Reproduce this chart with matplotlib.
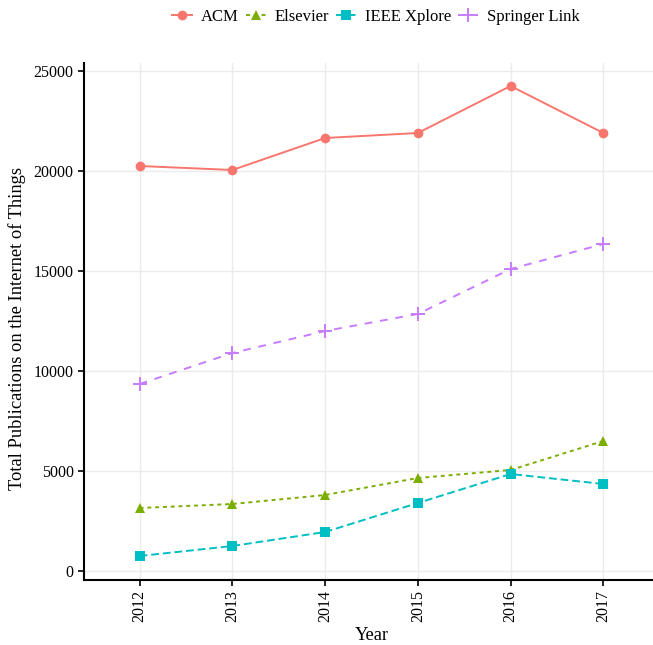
import numpy as np
import matplotlib.pyplot as plt

plt.rcParams['font.family'] = ['Liberation Serif', 'DejaVu Serif']

years = [2012, 2013, 2014, 2015, 2016, 2017]
acm = [20250, 20050, 21650, 21900, 24250, 21900]
elsevier = [3150, 3350, 3800, 4650, 5050, 6500]
ieee = [750, 1250, 1950, 3400, 4850, 4350]
springer = [9350, 10900, 12000, 12850, 15100, 16350]

names = ['ACM', 'Elsevier', 'IEEE Xplore', 'Springer Link']
series = [acm, elsevier, ieee, springer]
colors = ['#F8766D', '#7CAE00', '#00BFC4', '#C77CFF']
markers = ['o', '^', 's', '+']
dashes = [(None, None), (2, 2), (4, 2), (4, 4)]

fig = plt.figure(figsize=(6.53, 6.45), dpi=100)
ax = fig.add_axes([84/653, 1 - 579.5/645, 575/653, 517/645])

for name, vals, c, m, d in zip(names, series, colors, markers, dashes):
    kw = {}
    if d[0] is not None:
        kw['dashes'] = d
    ax.plot(years, vals, color=c, marker=m, markersize=7 if m != '+' else 10,
            markeredgewidth=1.4 if m == '+' else 0, lw=1.4, label=name, **kw)

allv = np.concatenate(series)
span = allv.max() - allv.min()
ax.set_ylim(allv.min() - 0.05 * span, allv.max() + 0.05 * span)
ax.set_xlim(2011.4, 2017.6)
ax.set_xticks(years)
ax.set_xticklabels([str(y) for y in years], rotation=90)
ax.set_yticks([0, 5000, 10000, 15000, 20000, 25000])
ax.tick_params(labelsize=11.5, length=4, width=1.2, color='black', labelcolor='black')
ax.grid(color='#EBEBEB', lw=1)
ax.set_axisbelow(True)
for s in ['top', 'right']:
    ax.spines[s].set_visible(False)
for s in ['left', 'bottom']:
    ax.spines[s].set_linewidth(1.5)
ax.set_xlabel('Year', fontsize=13.3, labelpad=4)
ax.set_ylabel('Total Publications on the Internet of Things', fontsize=13.3)
ax.yaxis.set_label_coords(-0.10, 0.485)

fig.legend(loc='center', bbox_to_anchor=(376/653, 1 - 17/645), ncol=4, frameon=False,
           fontsize=12, handlelength=1.2, columnspacing=0.45, handletextpad=0.5)

fig.savefig('out.png', dpi=100)
